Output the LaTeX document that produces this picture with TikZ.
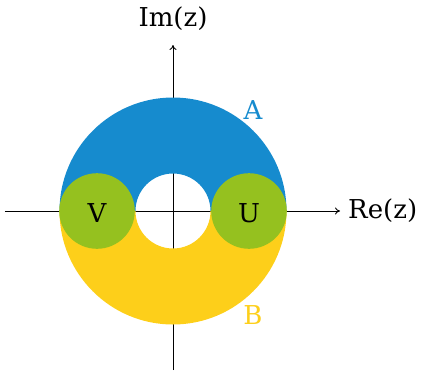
\documentclass[tikz,border=0pt]{standalone}
\usepackage{fontspec}
\setmainfont{DejaVu Serif}
\usetikzlibrary{arrows.meta}
\definecolor{cblue}{HTML}{168BCE}
\definecolor{cyellow}{HTML}{FDCF1A}
\definecolor{cgreen}{HTML}{95C11F}
\tikzset{
  axis/.style={line width=0.9pt, -{To[length=5pt,width=7pt]}},
  lbl/.style={font=\fontsize{26}{30}\selectfont, inner sep=0pt},
}
\begin{document}
\begin{tikzpicture}[x=1pt,y=1pt]
\useasboundingbox (-173,-167) rectangle (249,211);
% axes
\coordinate (xs) at (-168,0);
\coordinate (xe) at (167,0);
\coordinate (ys) at (0,-159);
\coordinate (ye) at (0,166);
\draw[axis] (xs) -- (xe);
\draw[axis] (ys) -- (ye);
% annulus halves
\fill[cblue] (113.5,0) arc[start angle=0,end angle=180,radius=113.5] -- (-37.5,0) arc[start angle=180,end angle=0,radius=37.5] -- cycle;
\fill[cyellow] (113.5,0) arc[start angle=0,end angle=-180,radius=113.5] -- (-37.5,0) arc[start angle=-180,end angle=0,radius=37.5] -- cycle;
% green discs
\fill[cgreen] (-76,0) circle[radius=37.8];
\fill[cgreen] (76,0) circle[radius=37.8];
% labels
\node[lbl] (V) at (-76,-2) {V};
\node[lbl] (U) at (76,-2) {U};
\node[lbl, text=cblue] (A) at (80,101) {A};
\node[lbl, text=cyellow] (B) at (80,-104) {B};
\node[lbl] (im) at (0,192) {Im(z)};
\node[lbl, anchor=west] (re) at (175,0) {Re(z)};
\end{tikzpicture}
\end{document}
